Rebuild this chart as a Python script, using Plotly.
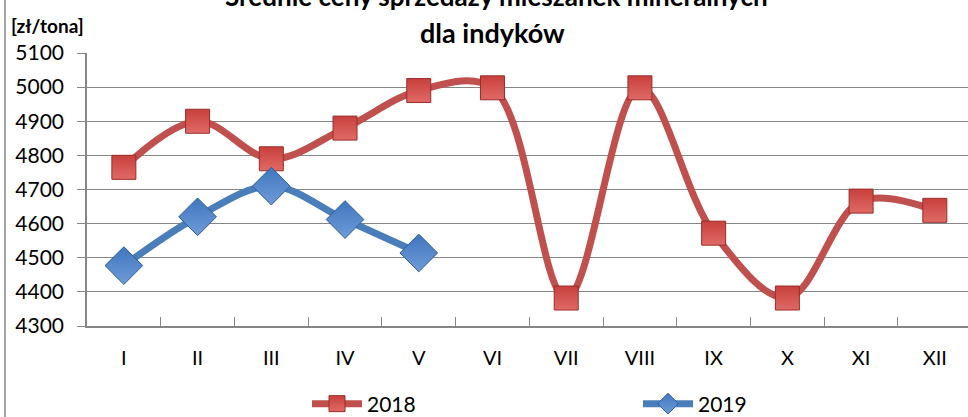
import plotly.graph_objects as go

months = ["I", "II", "III", "IV", "V", "VI", "VII", "VIII", "IX", "X", "XI", "XII"]
values_2018 = [4765, 4900, 4790, 4880, 4990, 4998, 4382, 4998, 4572, 4382, 4666, 4639]
months_2019 = ["I", "II", "III", "IV", "V"]
values_2019 = [4477, 4620, 4710, 4612, 4514]
y_ticks = [4300, 4400, 4500, 4600, 4700, 4800, 4900, 5000, 5100]

W, H = 968, 417
ML, MR, MT, MB = 87, 0, 53, 91
PW = W - ML - MR
PH = H - MT - MB


def px_x(px):
    return (px - ML) / PW


def px_y(py):
    return (H - MB - py) / PH


FONT = "Lato"
RED = "#C0504D"
BLUE = "#4A7EBB"
GRID = "#868686"

fig = go.Figure()
fig.add_trace(go.Scatter(
    x=months, y=values_2018, name="2018", mode="lines+markers",
    line=dict(color=RED, width=7, shape="spline", smoothing=1.0),
    marker=dict(symbol="square", size=24, color="#C8403C",
                line=dict(color="#9A2D2A", width=1),
                gradient=dict(type="vertical", color="#E06A66")),
))
fig.add_trace(go.Scatter(
    x=months_2019, y=values_2019, name="2019", mode="lines+markers",
    line=dict(color=BLUE, width=7, shape="spline", smoothing=1.0),
    marker=dict(symbol="diamond", size=29, color="#3F76BE",
                line=dict(color="#2E5C94", width=1),
                gradient=dict(type="vertical", color="#6F9BD8")),
))

fig.update_layout(
    width=W, height=H,
    margin=dict(l=ML, r=MR, t=MT, b=MB, pad=0),
    paper_bgcolor="white", plot_bgcolor="white",
    font=dict(family=FONT, size=20, color="black"),
    showlegend=True,
    legend=dict(
        orientation="h", xref="container", yref="container",
        x=307 / W, y=(H - 404) / H, xanchor="left", yanchor="middle",
        entrywidth=266, entrywidthmode="pixels",
        font=dict(family=FONT, size=21, color="black"),
        itemwidth=50, traceorder="normal",
        bgcolor="rgba(0,0,0,0)", borderwidth=0,
    ),
    xaxis=dict(
        type="category", categoryorder="array", categoryarray=months,
        range=[-0.5, 11.45],
        showgrid=False, showline=True, linecolor=GRID, linewidth=1.5,
        ticks="inside", ticklen=9, tickcolor=GRID, tickwidth=1.3,
        tickson="boundaries", ticklabelstandoff=13,
        tickfont=dict(family=FONT, size=20, color="black"),
        zeroline=False, fixedrange=True,
    ),
    yaxis=dict(
        range=[4300, 5100], tickvals=y_ticks,
        ticktext=[str(v) for v in y_ticks],
        showgrid=True, gridcolor=GRID, gridwidth=1.3,
        showline=True, linecolor=GRID, linewidth=1.5,
        ticks="outside", ticklen=8, tickcolor=GRID, tickwidth=1.3,
        ticklabelstandoff=9,
        tickfont=dict(family=FONT, size=21, color="black"),
        zeroline=False, fixedrange=True,
    ),
    annotations=[
        dict(text="<b>Średnie ceny sprzedaży mieszanek mineralnych</b>",
             xref="paper", yref="paper", x=px_x(496), y=px_y(-4),
             xanchor="center", yanchor="middle", showarrow=False,
             font=dict(family=FONT, size=26, color="black")),
        dict(text="<b>dla indyków</b>",
             xref="paper", yref="paper", x=px_x(492), y=px_y(32),
             xanchor="center", yanchor="middle", showarrow=False,
             font=dict(family=FONT, size=27, color="black")),
        dict(text="<b>[zł/tona]</b>",
             xref="paper", yref="paper", x=px_x(47), y=px_y(26),
             xanchor="center", yanchor="middle", showarrow=False,
             font=dict(family=FONT, size=19, color="black")),
    ],
    shapes=[
        dict(type="line", xref="paper", yref="paper",
             x0=px_x(5), x1=px_x(5), y0=px_y(0), y1=px_y(H),
             line=dict(color=GRID, width=1.5)),
    ],
)

fig.write_html(
    "out.html",
    config={"displayModeBar": False},
    post_script="document.body.style.margin='0';document.body.style.overflow='hidden';",
)
